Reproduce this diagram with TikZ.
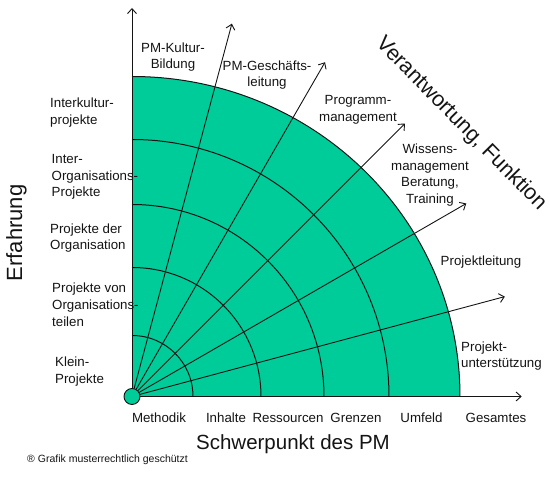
\documentclass[tikz,border=0pt]{standalone}
\usepackage{fontspec}
\setmainfont{Liberation Sans}
\usetikzlibrary{arrows.meta}
\definecolor{pmgreen}{RGB}{0,204,153}
\definecolor{ink}{RGB}{20,20,20}
\begin{document}
\begin{tikzpicture}[x=1pt,y=1pt,
  lbl/.style={inner sep=0pt, text=ink, font=\fontsize{13.3}{16.8}\selectfont},
  big/.style={inner sep=0pt, text=ink, font=\fontsize{22}{26}\selectfont},
  ray/.style={draw=ink, line width=0.9pt, -{Straight Barb[length=5pt,width=9pt]}},
  ring/.style={draw=ink, line width=1pt}]
\useasboundingbox (0,0) rectangle (550,495);
\coordinate (O) at (132,98.5);
% filled quarter
\fill[pmgreen] (O) -- ++(328,0) arc[start angle=0,end angle=90,x radius=328,y radius=320] -- cycle;
% rings
\foreach \r in {61,129,192,257}
  \draw[ring] (O) ++(\r,0) arc[start angle=0,end angle=90,radius=\r];
\draw[ring] (O) ++(328,0) arc[start angle=0,end angle=90,x radius=328,y radius=320];
% ray tips
\path (O) ++(75:386) coordinate (t1);
\path (O) ++(60:386) coordinate (t2);
\path (O) ++(45:386) coordinate (t3);
\path (O) ++(30:386) coordinate (t4);
\path (O) ++(15:386) coordinate (t5);
\path (O) ++(0,388.5) coordinate (ty);
\path (O) ++(389.7,0) coordinate (tx);
\foreach \t in {t1,t2,t3,t4,t5,ty,tx}
  \draw[ray] (O) -- (\t);
% origin circle
\node[circle, draw=ink, line width=0.9pt, fill=pmgreen, minimum size=16pt, inner sep=0pt] (orig) at (O) {};
% top/right labels
\node[lbl, align=center] (kb) at (173,438) {PM-Kultur-\\Bildung};
\node[lbl, align=center] (gl) at (267,420) {PM-Geschäfts-\\leitung};
\node[lbl, align=center] (pg) at (358,385) {Programm-\\management};
\node[lbl, align=center] (wm) at (430,320) {Wissens-\\management\\Beratung,\\Training};
\node[lbl, align=center] (pl) at (481,233) {Projektleitung};
\node[lbl, align=left, anchor=west] (pu) at (461,139) {Projekt-\\unterstützung};
% left labels
\node[lbl, align=left, anchor=west] (ik) at (50,382.5) {Interkultur-\\projekte};
\node[lbl, align=left, anchor=west] (io) at (51.5,318) {Inter-\\Organisations-\\Projekte};
\node[lbl, align=left, anchor=west] (po) at (50,257) {Projekte der\\Organisation};
\node[lbl, align=left, anchor=west] (pt) at (52,190) {Projekte von\\Organisations-\\teilen};
\node[lbl, align=left, anchor=west] (kp) at (55,123.5) {Klein-\\Projekte};
% bottom labels
\node[lbl] (m1) at (159,77) {Methodik};
\node[lbl] (m2) at (226,77) {Inhalte};
\node[lbl] (m3) at (288,77) {Ressourcen};
\node[lbl] (m4) at (356,77) {Grenzen};
\node[lbl] (m5) at (421.5,77) {Umfeld};
\node[lbl] (m6) at (496,77) {Gesamtes};
% axis titles
\node[big, font=\fontsize{20.5}{24}\selectfont] (sx) at (293,51) {Schwerpunkt des PM};
\node[big, rotate=90] (sy) at (16.5,262) {Erfahrung};
\node[big, font=\fontsize{21.5}{25}\selectfont, rotate=-45.5] (vf) at (461,371) {Verantwortung, Funktion};
% footer
\node[inner sep=0pt, anchor=west, text=ink, font=\fontsize{10.5}{12}\selectfont] (ft) at (27,35) {® Grafik musterrechtlich geschützt};
\end{tikzpicture}
\end{document}
